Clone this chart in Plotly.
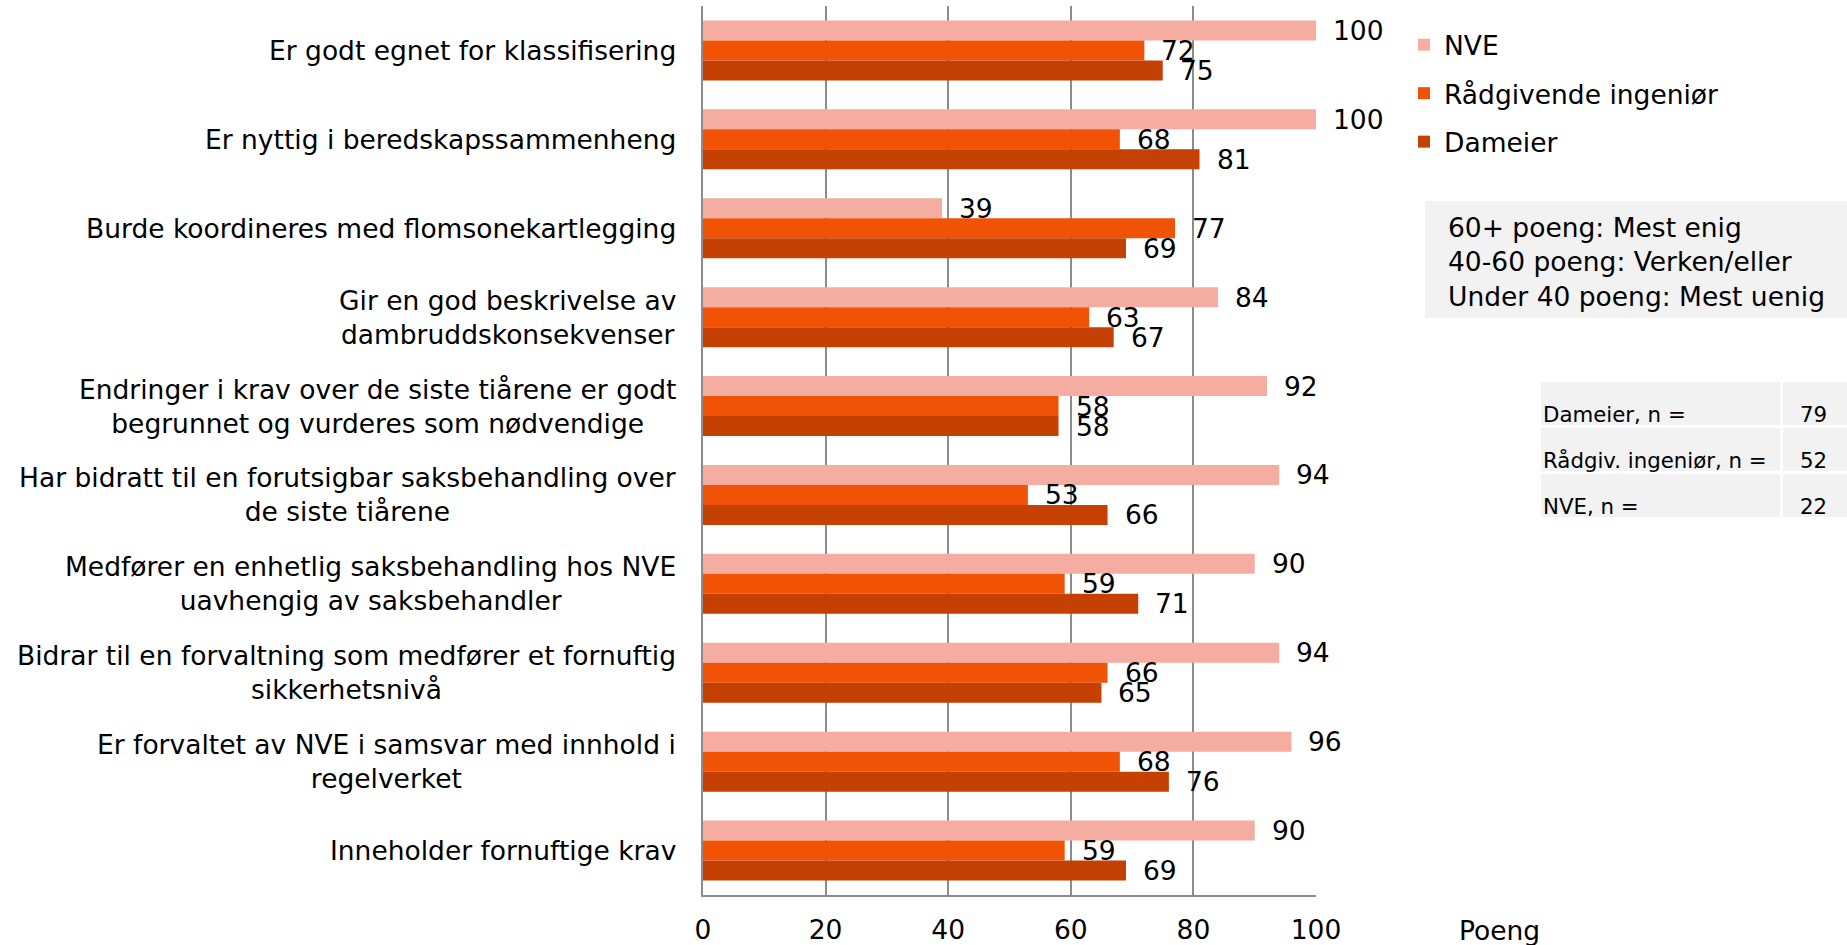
import plotly.graph_objects as go

categories = [
    "Er godt egnet for klassifisering",
    "Er nyttig i beredskapssammenheng",
    "Burde koordineres med flomsonekartlegging",
    "Gir en god beskrivelse av<br>dambruddskonsekvenser",
    "Endringer i krav over de siste tiårene er godt<br>begrunnet og vurderes som nødvendige",
    "Har bidratt til en forutsigbar saksbehandling over<br>de siste tiårene",
    "Medfører en enhetlig saksbehandling hos NVE<br>uavhengig av saksbehandler",
    "Bidrar til en forvaltning som medfører et fornuftig<br>sikkerhetsnivå",
    "Er forvaltet av NVE i samsvar med innhold i<br>regelverket",
    "Inneholder fornuftige krav",
]
series_names = ["NVE", "Rådgivende ingeniør", "Dameier"]
nve = [100, 100, 39, 84, 92, 94, 90, 94, 96, 90]
raadgiv = [72, 68, 77, 63, 58, 53, 59, 66, 68, 59]
dameier = [75, 81, 69, 67, 58, 66, 71, 65, 76, 69]
x_ticks = [0, 20, 40, 60, 80, 100]

info_lines = ["60+ poeng: Mest enig", "40-60 poeng: Verken/eller", "Under 40 poeng: Mest uenig"]
n_labels = ["Dameier, n =", "Rådgiv. ingeniør, n =", "NVE, n ="]
n_values = [79, 52, 22]

colors = ["#F5ACA1", "#F05206", "#C44103"]
FONT = "DejaVu Sans"
FS = 26.5

W, H = 1847, 945
L, R, T, B = 703, 1316, 6, 895
pw, ph = R - L, B - T

def px(xpix):
    return (xpix - L) / pw

def py(ypix):
    return (B - ypix) / ph

fig = go.Figure()
all_series = [nve, raadgiv, dameier]
for name, vals, col in zip(series_names, all_series, colors):
    fig.add_trace(go.Bar(
        y=categories, x=vals, name=name, orientation="h",
        marker=dict(color=col, line=dict(width=0)),
        legendgroup=name,
    ))

# value labels
shifts = [20, 0, -20]
for vals, ys in zip(all_series, shifts):
    for c, v in zip(categories, vals):
        fig.add_annotation(x=v, y=c, xref="x", yref="y", text=str(v),
                           showarrow=False, xanchor="left", yanchor="middle",
                           xshift=15, yshift=ys,
                           font=dict(family=FONT, size=FS, color="#000000"))

# category labels (centered multi-line)
for c in categories:
    fig.add_annotation(x=0, y=c, xref="paper", yref="y", text=c,
                       showarrow=False, xanchor="right", yanchor="middle",
                       xshift=-25, align="center",
                       font=dict(family=FONT, size=FS, color="#000000"))

# Poeng
fig.add_annotation(x=px(1457), y=py(931), xref="paper", yref="paper", text="Poeng",
                   showarrow=False, xanchor="left", yanchor="middle",
                   font=dict(family=FONT, size=FS, color="#000000"))

# info box
fig.add_shape(type="rect", xref="paper", yref="paper",
              x0=px(1425), x1=px(1847), y0=py(318), y1=py(201),
              fillcolor="#F2F2F2", line=dict(width=0), layer="below")
fig.add_annotation(x=px(1446), y=py(262), xref="paper", yref="paper",
                   text="<br>".join(info_lines), showarrow=False,
                   xanchor="left", yanchor="middle", align="left",
                   font=dict(family=FONT, size=FS, color="#000000"))

# n table
row_tops = [382, 428, 474]
row_h = 43
for lab, val, rt in zip(n_labels, n_values, row_tops):
    fig.add_shape(type="rect", xref="paper", yref="paper",
                  x0=px(1541), x1=px(1780), y0=py(rt + row_h), y1=py(rt),
                  fillcolor="#F2F2F2", line=dict(width=0), layer="below")
    fig.add_shape(type="rect", xref="paper", yref="paper",
                  x0=px(1783), x1=px(1847), y0=py(rt + row_h), y1=py(rt),
                  fillcolor="#F2F2F2", line=dict(width=0), layer="below")
    fig.add_annotation(x=px(1541), y=py(rt + 32), xref="paper", yref="paper",
                       text=lab, showarrow=False, xanchor="left", yanchor="middle",
                       font=dict(family=FONT, size=21.3, color="#000000"))
    fig.add_annotation(x=px(1829), y=py(rt + 32), xref="paper", yref="paper",
                       text=str(val), showarrow=False, xanchor="right", yanchor="middle",
                       font=dict(family=FONT, size=21.3, color="#000000"))

fig.update_layout(
    width=W, height=H,
    margin=dict(l=L, r=W - R, t=T, b=H - B, pad=0, autoexpand=False),
    paper_bgcolor="white", plot_bgcolor="white",
    barmode="group", bargap=0.325, bargroupgap=0,
    font=dict(family=FONT, size=FS, color="#000000"),
    showlegend=True,
    legend=dict(x=px(1404), y=py(21), xanchor="left", yanchor="top",
                traceorder="grouped", tracegroupgap=11,
                font=dict(family=FONT, size=FS, color="#000000"),
                bgcolor="rgba(0,0,0,0)", itemwidth=30),
    xaxis=dict(range=[0, 100], tickvals=x_ticks, ticktext=[str(t) for t in x_ticks],
               showgrid=True, gridcolor="#8C8C8C", gridwidth=1.5,
               showline=True, linecolor="#8C8C8C", linewidth=1.5,
               zeroline=False, ticks="", ticklabelstandoff=10,
               tickfont=dict(family=FONT, size=FS, color="#000000"),
               fixedrange=True),
    yaxis=dict(autorange="reversed", showticklabels=False, showgrid=False,
               showline=True, linecolor="#8C8C8C", linewidth=1.5, ticks="",
               zeroline=False, fixedrange=True),
)

fig.write_html(
    "out.html",
    config={"displayModeBar": False},
    post_script="document.body.style.margin='0';document.body.style.overflow='hidden';",
)
